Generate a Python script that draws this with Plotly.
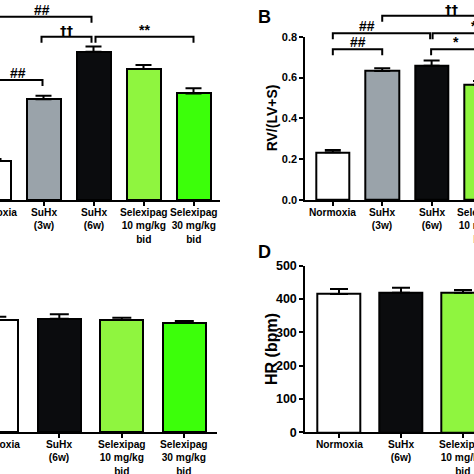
import plotly.graph_objects as go

# group labels and colours
groups_ab = ["Normoxia", "SuHx<br>(3w)", "SuHx<br>(6w)",
             "Selexipag<br>10 mg/kg<br>bid", "Selexipag<br>30 mg/kg<br>bid"]
colors_ab = ["white", "#9aa3aa", "#0b0c0e", "#8ff53f", "#3cff0a"]
groups_cd = ["Normoxia", "SuHx<br>(6w)",
             "Selexipag<br>10 mg/kg<br>bid", "Selexipag<br>30 mg/kg<br>bid"]
colors_cd = ["white", "#0b0c0e", "#8ff53f", "#3cff0a"]

# A (axis cropped away)
rvsp = [23.9, 61.8, 91.0, 80.4, 65.4]
rvsp_sem = [1.2, 2.2, 3.1, 2.4, 3.1]
# B
rv_ratio = [0.234, 0.632, 0.658, 0.564, 0.50]
rv_ratio_sem = [0.011, 0.013, 0.025, 0.019, 0.02]
# C (axis cropped away)
panel_c = [101.1, 102.2, 101.1, 98.6]
panel_c_sem = [3.0, 4.0, 2.1, 1.5]
# D
hr = [415, 419, 419, 410]
hr_sem = [15, 15, 8, 10]

W = 474.0
FONT = "Liberation Sans, Arial, sans-serif"

fig = go.Figure()


def add_bars(xa, ya, vals, sem, colors, width, cap):
    fig.add_trace(go.Bar(
        x=list(range(len(vals))), y=vals, width=width,
        marker=dict(color=colors, line=dict(color="black", width=2)),
        error_y=dict(type="data", array=sem, arrayminus=[0] * len(sem), symmetric=False,
                     color="black", thickness=2, width=cap),
        xaxis=xa, yaxis=ya, showlegend=False, hoverinfo="skip"))


add_bars("x", "y", rvsp, rvsp_sem, colors_ab, 0.68, 8)
add_bars("x2", "y2", rv_ratio, rv_ratio_sem, colors_ab, 0.68, 8)
add_bars("x3", "y3", panel_c, panel_c_sem, colors_cd, 0.69, 9.5)
add_bars("x4", "y4", hr, hr_sem, colors_cd, 0.70, 9)

xranges = {"x": [0.13, 4.53], "x2": [-0.557, 2.858], "x3": [0.051, 3.518], "x4": [-0.544, 2.177]}


def frac(xa, v):
    r = xranges[xa]
    return (v - r[0]) / (r[1] - r[0])


annotations = []

# significance brackets: (x1, x2, level, label, text x)
brackets_a = [
    (0, 1.96, 112.5, "##", None),
    (0, 0.98, 73.6, "##", None),
    (0.96, 1.96, 100.2, "††", None),
    (2.04, 4, 100.2, "**", None),
]
brackets_b = [
    (0, 1, 0.739, "##", None),
    (0, 1.97, 0.817, "##", 0.69),
    (1, 4, 0.903, "††", 2.42),
    (2.02, 4, 0.817, "**", 2.9),
    (1.99, 3, 0.739, "*", None),
]


def add_brackets(xa, ya, brackets, drop):
    for x1, x2, lvl, lab, tx in brackets:
        fig.add_trace(go.Scatter(
            x=[x1, x1, x2, x2], y=[lvl - drop, lvl, lvl, lvl - drop], mode="lines",
            line=dict(color="black", width=2), xaxis=xa, yaxis=ya,
            showlegend=False, hoverinfo="skip"))
        if tx is None:
            tx = (x1 + x2) / 2
        fam = "DejaVu Sans" if "†" in lab else FONT
        annotations.append(dict(
            text=lab, x=frac(xa, tx), xref=xa + " domain", y=lvl, yref=ya,
            xanchor="center", yanchor="bottom", yshift=-3, showarrow=False,
            font=dict(family=fam, size=14 if fam == FONT else 13, color="black", weight="bold")))


add_brackets("x", "y", brackets_a, 3.7)
add_brackets("x2", "y5", brackets_b, 0.03)

# category labels under each axis
for xa, ya, groups in [("x", "y", groups_ab), ("x2", "y2", groups_ab),
                       ("x3", "y3", groups_cd), ("x4", "y4", groups_cd)]:
    for i, g in enumerate(groups):
        annotations.append(dict(
            text=g, x=frac(xa, i), xref=xa + " domain", y=0, yref=ya + " domain",
            xanchor="center", yanchor="top", yshift=-5, showarrow=False, align="center",
            font=dict(family=FONT, size=10.2, color="black", weight="bold")))

# panel letters and axis titles
annotations += [
    dict(text="B", x=264.5 / W, y=1 - 17 / W, xref="paper", yref="paper", showarrow=False,
         xanchor="center", yanchor="middle", font=dict(family=FONT, size=18, weight="bold", color="black")),
    dict(text="D", x=264.5 / W, y=1 - 252 / W, xref="paper", yref="paper", showarrow=False,
         xanchor="center", yanchor="middle", font=dict(family=FONT, size=18, weight="bold", color="black")),
    dict(text="RV/(LV+S)", x=272 / W, y=0.5, xref="paper", yref="y2 domain", showarrow=False,
         textangle=-90, xanchor="center", yanchor="middle",
         font=dict(family=FONT, size=14, weight="bold", color="black")),
    dict(text="HR (bpm)", x=271 / W, y=0.5, xref="paper", yref="y4 domain", showarrow=False,
         textangle=-90, xanchor="center", yanchor="middle",
         font=dict(family=FONT, size=16, weight="bold", color="black")),
]

xbase = dict(showline=True, linewidth=2, linecolor="black", ticks="outside", ticklen=4,
             tickwidth=2, tickcolor="black", showticklabels=False, showgrid=False,
             zeroline=False, fixedrange=True)
ybase = dict(showline=True, linewidth=2, linecolor="black", ticks="outside", ticklen=4,
             tickwidth=2, tickcolor="black", showgrid=False, zeroline=False, fixedrange=True)

top_ab = 1.0
bot_ab = 1 - 200 / W
bot_cd = 1 - 432.3 / W
b_axis_top = 1 - 36.7 / W

fig.update_layout(
    width=474, height=474, margin=dict(l=0, r=0, t=0, b=0, autoexpand=False),
    paper_bgcolor="white", plot_bgcolor="rgba(0,0,0,0)", bargap=0,
    font=dict(family=FONT, color="black"),
    xaxis=dict(xbase, domain=[0, 220 / W], range=xranges["x"], anchor="y", tickvals=list(range(5))),
    yaxis=dict(domain=[bot_ab, top_ab], range=[0, 122.7], visible=False, fixedrange=True),
    xaxis2=dict(xbase, domain=[305.3 / W, 1], range=xranges["x2"], anchor="y2", tickvals=list(range(5))),
    yaxis2=dict(ybase, domain=[bot_ab, b_axis_top], range=[0, 0.8], anchor="x2",
                tickvals=[0, 0.2, 0.4, 0.6, 0.8], tickformat=".1f",
                tickfont=dict(family=FONT, size=11, weight="bold", color="black")),
    yaxis5=dict(domain=[bot_ab, top_ab], anchor="x2", visible=False, fixedrange=True,
                range=[0, 0.8 * (top_ab - bot_ab) / (b_axis_top - bot_ab)]),
    xaxis3=dict(xbase, domain=[0, 216.7 / W], range=xranges["x3"], anchor="y3", tickvals=list(range(4))),
    yaxis3=dict(domain=[bot_cd, 1 - 240 / W], range=[0, 173.1], visible=False, fixedrange=True),
    xaxis4=dict(xbase, domain=[305.3 / W, 1], range=xranges["x4"], anchor="y4", tickvals=list(range(4))),
    yaxis4=dict(ybase, domain=[bot_cd, 1 - 265.7 / W], range=[0, 500], anchor="x4",
                tickvals=[0, 100, 200, 300, 400, 500],
                tickfont=dict(family=FONT, size=12.5, weight="bold", color="black")),
    annotations=annotations,
)

# pin the 474x474 figure to the window corner, no page margin or scrolling
pin = ("document.body.style.margin='0';"
       "document.documentElement.style.overflow='hidden';"
       "var d=document.getElementById('{plot_id}');"
       "d.style.position='fixed';d.style.left='0';d.style.top='0';")
fig.write_html("out.html", config={"displayModeBar": False}, post_script=pin)
